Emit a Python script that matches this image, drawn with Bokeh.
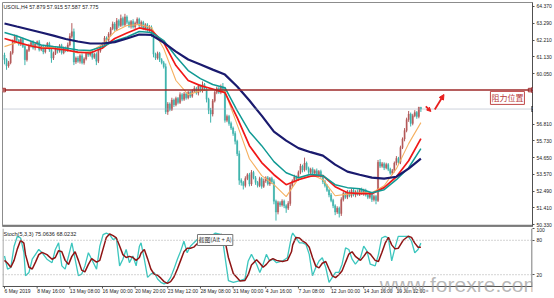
import numpy as np
from bokeh.plotting import figure
from bokeh.layouts import column
from bokeh.models import (ColumnDataSource, FixedTicker, Label, Span, Arrow,
                          NormalHead, Range1d, NumeralTickFormatter)
from bokeh.embed import file_html
from bokeh.resources import INLINE

# ---------------- data ----------------
first_open = 61.25
closes = [
    60.95, 60.55, 60.75, 61.40, 62.10, 62.45, 62.20, 61.95, 62.25, 61.80,
    60.95, 61.55, 61.85, 62.05, 61.70, 61.95, 62.10, 61.60, 61.80, 61.45,
    61.75, 62.00, 61.60, 61.05, 61.35, 61.70, 61.50, 61.85, 61.40, 61.70,
    61.55, 61.90, 62.45, 62.75, 60.80, 61.05, 60.85, 61.20, 60.75, 61.00,
    61.35, 61.25, 61.45, 61.10, 61.30, 60.85, 61.50, 61.75, 61.95, 62.35,
    62.20, 62.60, 62.95, 63.25, 62.90, 63.45, 63.15, 63.60, 63.20, 63.70,
    63.35, 63.10, 63.40, 63.05, 63.30, 63.55, 63.15, 63.35, 62.95, 63.20,
    62.85, 63.05, 62.55, 61.30, 61.05, 61.35, 60.95, 60.75, 60.50, 57.60,
    58.10, 57.75, 58.35, 58.05, 58.45, 58.20, 58.70, 58.40, 58.75, 58.50,
    58.85, 58.60, 58.95, 59.10, 58.80, 59.25, 58.95, 59.35, 59.05, 58.40,
    57.70, 57.45, 58.30, 58.85, 59.10, 58.85, 59.20, 59.00, 57.05, 57.30,
    56.85, 56.55, 56.20, 55.70, 54.90, 53.20, 53.05, 52.85, 53.30, 53.55,
    52.95, 53.70, 53.35, 53.05, 52.85, 53.30, 52.80, 53.15, 53.35, 52.95,
    53.30, 53.10, 51.85, 51.15, 51.75, 51.60, 51.85, 51.55, 51.40, 51.70,
    52.85, 53.15, 53.40, 53.25, 53.70, 54.10, 53.85, 54.30, 53.95, 53.70,
    53.90, 53.65, 53.80, 53.55, 53.75, 53.45, 53.10, 52.85, 52.55, 52.25,
    51.90, 51.55, 51.15, 51.40, 51.05, 51.95, 52.35, 52.10, 52.45, 52.20,
    52.55, 52.25, 52.45, 52.30, 52.60, 52.35, 52.55, 52.25, 52.10, 52.35,
    51.95, 52.15, 51.90, 54.35, 54.10, 54.25, 54.00, 54.20, 53.90, 53.65,
    53.80, 54.30, 54.60, 54.35, 55.30, 55.85, 56.40, 57.10, 57.45, 56.85,
    57.35, 57.55, 57.30, 57.879, 57.775,
]
up_wick = [
    0.15, 0.10, 0.12, 0.10, 0.15, 0.12, 0.10, 0.08, 0.10, 0.12,
    0.10, 0.08, 0.12, 0.10, 0.15, 0.10, 0.08, 0.12, 0.10, 0.10,
    0.12, 0.08, 0.10, 0.10, 0.12, 0.10, 0.08, 0.10, 0.12, 0.10,
    0.10, 0.15, 0.20, 0.55, 0.20, 0.10, 0.12, 0.10, 0.15, 0.10,
    0.08, 0.10, 0.12, 0.10, 0.10, 0.12, 0.10, 0.08, 0.10, 0.12,
    0.10, 0.12, 0.10, 0.15, 0.12, 0.18, 0.10, 0.25, 0.12, 0.20,
    0.10, 0.12, 0.10, 0.15, 0.10, 0.12, 0.10, 0.12, 0.10, 0.10,
    0.10, 0.12, 0.10, 0.15, 0.10, 0.12, 0.10, 0.10, 0.12, 0.20,
    0.12, 0.10, 0.15, 0.10, 0.12, 0.10, 0.15, 0.10, 0.12, 0.10,
    0.10, 0.12, 0.10, 0.15, 0.10, 0.12, 0.10, 0.20, 0.10, 0.12,
    0.10, 0.15, 0.12, 0.10, 0.12, 0.10, 0.15, 0.25, 0.20, 0.12,
    0.10, 0.12, 0.10, 0.15, 0.10, 0.20, 0.12, 0.10, 0.15, 0.10,
    0.12, 0.15, 0.10, 0.12, 0.10, 0.12, 0.10, 0.15, 0.10, 0.12,
    0.10, 0.12, 0.15, 0.10, 0.12, 0.10, 0.12, 0.10, 0.10, 0.15,
    0.12, 0.10, 0.15, 0.10, 0.12, 0.15, 0.10, 0.35, 0.10, 0.12,
    0.10, 0.12, 0.10, 0.15, 0.10, 0.12, 0.10, 0.12, 0.10, 0.10,
    0.12, 0.10, 0.10, 0.12, 0.10, 0.15, 0.12, 0.10, 0.12, 0.10,
    0.10, 0.12, 0.10, 0.15, 0.10, 0.12, 0.10, 0.10, 0.12, 0.10,
    0.10, 0.12, 0.10, 0.15, 0.20, 0.12, 0.10, 0.12, 0.10, 0.10,
    0.12, 0.10, 0.15, 0.10, 0.12, 0.10, 0.15, 0.12, 0.20, 0.10,
    0.12, 0.15, 0.10, 0.04, 0.036,
]
dn_wick = [
    0.30, 0.25, 0.12, 0.10, 0.12, 0.10, 0.15, 0.10, 0.12, 0.10,
    0.35, 0.12, 0.10, 0.12, 0.10, 0.15, 0.10, 0.12, 0.10, 0.15,
    0.10, 0.12, 0.15, 0.30, 0.12, 0.10, 0.15, 0.10, 0.12, 0.10,
    0.12, 0.10, 0.10, 0.12, 0.20, 0.12, 0.10, 0.15, 0.10, 0.12,
    0.10, 0.12, 0.10, 0.15, 0.10, 0.25, 0.12, 0.10, 0.12, 0.10,
    0.12, 0.10, 0.15, 0.10, 0.12, 0.10, 0.15, 0.10, 0.12, 0.10,
    0.12, 0.10, 0.15, 0.10, 0.12, 0.10, 0.12, 0.15, 0.10, 0.12,
    0.10, 0.12, 0.15, 0.20, 0.12, 0.10, 0.15, 0.10, 0.12, 0.15,
    0.20, 0.12, 0.10, 0.15, 0.10, 0.12, 0.10, 0.12, 0.10, 0.12,
    0.10, 0.12, 0.10, 0.12, 0.10, 0.15, 0.10, 0.12, 0.10, 0.20,
    0.25, 0.55, 0.15, 0.10, 0.12, 0.10, 0.12, 0.10, 0.15, 0.12,
    0.15, 0.12, 0.15, 0.20, 0.15, 0.30, 0.20, 0.25, 0.12, 0.10,
    0.15, 0.12, 0.10, 0.15, 0.12, 0.10, 0.15, 0.10, 0.12, 0.10,
    0.12, 0.15, 0.20, 0.55, 0.15, 0.12, 0.10, 0.15, 0.30, 0.12,
    0.15, 0.12, 0.10, 0.15, 0.10, 0.12, 0.15, 0.10, 0.12, 0.10,
    0.12, 0.10, 0.15, 0.10, 0.12, 0.10, 0.15, 0.12, 0.10, 0.15,
    0.12, 0.15, 0.20, 0.12, 0.25, 0.15, 0.12, 0.10, 0.12, 0.10,
    0.12, 0.10, 0.15, 0.10, 0.12, 0.10, 0.15, 0.10, 0.12, 0.10,
    0.15, 0.12, 0.25, 0.10, 0.12, 0.10, 0.15, 0.10, 0.12, 0.10,
    0.12, 0.10, 0.15, 0.10, 0.12, 0.10, 0.15, 0.12, 0.15, 0.20,
    0.12, 0.10, 0.15, 0.12, 0.188,
]

# moving averages, one reading per trading day (every 6th H4 bar)
ma_idx = list(range(0, 205, 6))
ma_navy = [63.28, 63.08, 62.89, 62.70, 62.50, 62.28, 62.12, 61.99, 61.99, 62.08,
           62.31, 62.57, 62.54, 62.05, 61.47, 60.96, 60.64, 60.31, 59.99, 59.22,
           58.32, 57.35, 56.32, 55.74, 55.26, 55.00, 54.78, 54.20, 53.75, 53.55,
           53.36, 53.30, 53.42, 53.94, 54.58]
ma_teal = [62.70, 62.47, 62.18, 61.89, 61.79, 61.70, 61.57, 61.54, 61.79, 62.15,
           62.41, 62.76, 62.70, 62.18, 61.15, 60.25, 59.73, 59.35, 59.15, 57.67,
           56.32, 55.42, 54.39, 53.68, 53.36, 53.58, 53.49, 52.91, 52.72, 52.65,
           52.39, 52.59, 53.23, 54.00, 55.23]
ma_red = [62.31, 62.08, 61.86, 61.70, 61.67, 61.57, 61.44, 61.38, 61.70, 62.31,
          62.66, 62.99, 62.83, 62.05, 60.57, 59.61, 59.28, 59.06, 58.83, 57.22,
          55.42, 54.33, 53.55, 52.91, 53.23, 53.46, 53.49, 52.78, 52.39, 52.33,
          52.33, 52.72, 53.42, 54.45, 55.87]
ma_orange = [61.79, 62.05, 61.86, 61.73, 61.73, 61.57, 61.38, 61.47, 61.92, 62.76,
             63.15, 63.21, 63.02, 61.67, 59.61, 58.70, 58.96, 59.03, 58.90, 56.77,
             54.58, 53.49, 52.91, 52.14, 53.30, 53.58, 53.23, 52.20, 52.30, 52.39,
             52.39, 52.84, 53.94, 55.55, 56.90]

# Stochastic (5,3,3) readings: bar position, main line, signal line
stoch_idx = [0, 1.5, 3.1, 4.7, 6.3, 7.9, 9.5, 10.3, 12.0, 13.6, 15.2, 16.8, 18.4, 20.8,
             23.3, 24.9, 26.5, 28.1, 29.7, 31.4, 33.0, 34.6, 36.2, 37.8, 39.4, 41.1,
             42.7, 45.1, 46.7, 48.3, 49.9, 51.5, 53.2, 54.8, 56.4, 58.0, 59.6, 61.2,
             62.9, 64.5, 66.1, 66.9, 68.5, 70.1, 71.7, 73.3, 75.0, 76.6, 78.2, 79.8,
             81.4, 83.0, 84.7, 86.3, 87.9, 89.5, 91.1, 92.7, 94.4, 98.4, 103.3, 106.5,
             108.1, 109.7, 112.1, 115.4, 117.8, 119.4, 121.0, 123.5, 125.1, 126.7,
             128.3, 129.9, 131.5, 133.3, 136.2, 138.6, 140.6, 141.2, 142.8, 144.5,
             146.0, 147.7, 149.3, 150.9, 152.5, 154.1, 155.7, 157.4, 159.0, 160.6,
             162.2, 163.8, 165.4, 167.1, 168.7, 170.3, 171.9, 174.4, 176.0, 177.6,
             179.2, 181.6, 183.2, 184.8, 186.5, 188.1, 189.7, 191.3, 192.9, 195.3,
             197.8, 199.4, 201.0, 202.6, 204.0]
stoch_main = [52.6, 29.8, 32.6, 69.7, 86.9, 84.0, 58.3, 18.3, 24.0, 47.0, 55.5, 64.0,
              58.3, 47.0, 41.0, 64.0, 75.4, 35.4, 29.8, 52.6, 75.4, 47.0, 18.3, 21.0,
              35.4, 58.3, 47.0, 29.8, 69.7, 89.7, 92.5, 89.7, 81.2, 84.0, 35.4, 47.0,
              64.0, 41.0, 52.6, 35.4, 69.7, 75.4, 47.0, 15.4, 21.0, 24.0, 12.6, 6.8,
              4.0, 6.8, 15.4, 29.8, 47.0, 61.1, 78.3, 58.3, 69.7, 75.4, 81.2, 80.0,
              92.5, 89.7, 49.7, 9.7, 6.8, 9.7, 12.6, 44.0, 55.5, 38.3, 24.0, 38.3,
              55.5, 44.0, 47.0, 41.0, 44.0, 49.7, 86.9, 92.5, 84.0, 75.4, 75.4, 72.6,
              55.5, 18.3, 32.6, 44.0, 49.7, 32.6, 6.8, 15.4, 24.0, 24.0, 38.3, 66.8,
              64.0, 47.0, 38.3, 49.7, 69.7, 61.1, 38.3, 35.4, 55.5, 84.0, 86.9, 84.0,
              44.0, 66.8, 86.9, 86.9, 86.9, 78.3, 58.3, 64.0, 75.06]
stoch_signal = [45, 40, 33, 45, 65, 80, 75, 55, 33, 30, 42, 55, 59, 55, 47, 50, 62, 60,
                45, 38, 52, 60, 45, 28, 25, 38, 48, 42, 45, 65, 85, 91, 88, 84, 70, 55,
                50, 52, 50, 45, 50, 58, 64, 48, 30, 21, 19, 14, 8, 5, 8, 16, 30, 45, 60,
                66, 66, 68, 74, 78, 86, 90, 78, 50, 22, 9, 10, 20, 37, 46, 40, 33, 38,
                45, 48, 45, 43, 45, 60, 72, 85, 84, 79, 75, 68, 50, 35, 32, 40, 43, 30,
                18, 15, 20, 27, 42, 56, 60, 52, 45, 52, 60, 56, 45, 43, 58, 75, 85, 72,
                65, 66, 80, 87, 85, 75, 68, 68.02]

price_ticks = [64.370, 63.290, 62.210, 61.130, 60.050, 56.810, 55.730,
               54.650, 53.570, 52.490, 51.410, 50.330]
resistance = 58.995
last_price = 57.775
time_tick_idx = [0, 16, 32, 48, 64, 80, 96, 112, 128, 144, 160, 176, 192]
time_labels = ["6 May 2019", "8 May 16:00", "13 May 08:00", "16 May 00:00",
               "20 May 20:00", "23 May 12:00", "28 May 08:00", "31 May 00:00",
               "4 Jun 16:00", "7 Jun 08:00", "12 Jun 00:00", "14 Jun 16:00",
               "19 Jun 12:00"]
stoch_levels = [20, 80]
stoch_ticks = [20, 80, 100]

assert len(closes) == len(up_wick) == len(dn_wick) == 205
assert len(stoch_idx) == len(stoch_main) == len(stoch_signal)

# ---------------- derived OHLC ----------------
C = np.array(closes)
O = np.array([first_open] + closes[:-1])
H = np.maximum(O, C) + np.array(up_wick)
L = np.minimum(O, C) - np.array(dn_wick)
n = len(C)
x = np.arange(n)

BULL = "#B45A5A"
BEAR = "#3DB3AC"
colors = [BULL if c >= o else BEAR for o, c in zip(O, C)]
src = ColumnDataSource(dict(x=x, o=O, c=C, h=H, l=L,
                            top=np.maximum(O, C), bot=np.minimum(O, C), color=colors))

FONT = "Liberation Sans"
PX_PER_BAR = 2.045
x0 = -2 / PX_PER_BAR
x1 = x0 + 531 / PX_PER_BAR
xr = Range1d(x0, x1)

# ---------------- main price panel ----------------
p = figure(width=554, height=227, x_range=xr, y_range=Range1d(50.22, 64.627),
           y_axis_location="right", x_axis_location=None,
           toolbar_location=None, output_backend="svg",
           min_border_left=2, min_border_right=21, min_border_top=2, min_border_bottom=1)
p.grid.visible = False
p.outline_line_color = "#8c8c8c"
p.background_fill_color = "white"
p.border_fill_color = "white"
ya = p.yaxis[0]
ya.ticker = FixedTicker(ticks=price_ticks)
ya.formatter = NumeralTickFormatter(format="0.000")
ya.major_label_text_font_size = "5px"
ya.major_label_text_font = FONT
ya.major_label_text_color = "#222222"
ya.axis_line_color = "#505050"
ya.major_tick_line_color = "#505050"
ya.major_tick_out = 2
ya.major_tick_in = 0
ya.minor_tick_out = 0
ya.minor_tick_in = 0
ya.major_label_standoff = 2

# resistance and current price lines
p.add_layout(Span(location=resistance, dimension="width", line_color="#9E2A2A", line_width=1.6))
p.add_layout(Span(location=last_price, dimension="width", line_color="#9AA6B8",
                  line_width=1, line_dash="1 1"))
p.scatter([x0 + 0.6, x1 - 1.2], [resistance, resistance], marker="square", size=3.5,
          fill_color="white", line_color="#9E2A2A", line_width=1)

# candles
p.segment(x0="x", y0="l", x1="x", y1="h", source=src, line_color="color", line_width=1)
p.vbar(x="x", width=0.6, top="top", bottom="bot", source=src,
       fill_color="color", line_color="color", line_width=0.4)

# moving averages
p.line(ma_idx, ma_orange, line_color="#F5B060", line_width=1.1)
p.line(ma_idx, ma_red, line_color="#F01818", line_width=1.7)
p.line(ma_idx, ma_teal, line_color="#119A94", line_width=1.5)
p.line(ma_idx, ma_navy, line_color="#1A1A6E", line_width=2.2)

# bottom separator
p.add_layout(Span(location=50.22 + 0.04, dimension="width", line_color="#7a7a7a", line_width=2.5))

# title
p.add_layout(Label(x=x0 + 0.5, y=64.50, text="USOIL,H4 57.879 57.915 57.587 57.775",
                   text_font=FONT, text_font_size="5.3px", text_color="#222222",
                   text_baseline="top", text_align="left"))

# price tags on the axis
tag_x = x1 - 0.5
p.add_layout(Label(x=tag_x, y=resistance, text="58.995", text_font=FONT,
                   text_font_size="5px", text_color="white", text_baseline="middle",
                   text_align="left", background_fill_color="#8E1E1E", padding=1))
p.add_layout(Label(x=tag_x, y=last_price, text="57.775", text_font=FONT,
                   text_font_size="5px", text_color="white", text_baseline="middle",
                   text_align="left", background_fill_color="#111111", padding=1))

# annotation: resistance text + red arrows
p.add_layout(Label(x=246.4, y=58.49, text="阻力位置", text_font="Noto Sans CJK SC",
                   text_font_size="8px", text_color="#B83A3A", text_baseline="middle",
                   text_align="center", background_fill_color="white",
                   border_line_color="#C04848", border_line_width=1, padding=1))
p.add_layout(Arrow(end=NormalHead(size=4, fill_color="#E81E1E", line_color="#E81E1E"),
                   x_start=206.4, y_start=57.94, x_end=208.9, y_end=57.62,
                   line_color="#E81E1E", line_width=1.8))
p.add_layout(Arrow(end=NormalHead(size=5, fill_color="#E81E1E", line_color="#E81E1E"),
                   x_start=210.8, y_start=57.75, x_end=215.3, y_end=58.71,
                   line_color="#E81E1E", line_width=1.8))

# ---------------- stochastic panel (frame extends over the time-label strip) ----------------
S_BOT = -0.5
S_LOW = -21.4
s = figure(width=554, height=71, x_range=xr, y_range=Range1d(S_LOW, 100.5),
           y_axis_location="right", x_axis_location=None,
           toolbar_location=None, output_backend="svg",
           min_border_left=2, min_border_right=21, min_border_top=1, min_border_bottom=0)
s.grid.visible = False
s.outline_line_color = None
s.background_fill_color = "white"
s.border_fill_color = "white"
sy = s.yaxis[0]
sy.ticker = FixedTicker(ticks=stoch_ticks)
sy.major_label_text_font_size = "5px"
sy.major_label_text_font = FONT
sy.major_label_text_color = "#222222"
sy.axis_line_color = None
sy.major_tick_line_color = "#505050"
sy.major_tick_out = 2
sy.major_tick_in = 0
sy.minor_tick_out = 0
sy.minor_tick_in = 0
sy.major_label_standoff = 2

# panel border: bottom time axis, left and right edges
s.add_layout(Span(location=S_BOT, dimension="width", line_color="#505050", line_width=1))
s.segment(x0=[x0 + 0.25, x1 - 0.25], y0=[S_BOT, S_BOT], x1=[x0 + 0.25, x1 - 0.25],
          y1=[100.5, 100.5], line_color=["#8c8c8c", "#505050"], line_width=1)
s.segment(x0=time_tick_idx, y0=[S_BOT] * len(time_tick_idx), x1=time_tick_idx,
          y1=[S_BOT - 3.5] * len(time_tick_idx), line_color="#505050", line_width=1)

for lv in stoch_levels:
    s.add_layout(Span(location=lv, dimension="width", line_color="#a8a8a8",
                      line_width=1, line_dash="1 2"))

s.line(stoch_idx, stoch_main, line_color="#3CC6BE", line_width=1.3)
s.line(stoch_idx, stoch_signal, line_color="#8E1414", line_width=1.5)

s.add_layout(Label(x=x0 + 0.5, y=96.0, text="Stoch(5,3,3) 75.0636 68.0232",
                   text_font=FONT, text_font_size="5.5px", text_color="#222222",
                   text_baseline="top", text_align="left"))

for t, lab in zip(time_tick_idx, time_labels):
    s.add_layout(Label(x=t, y=S_BOT - 3.0, text=lab, text_font=FONT, text_font_size="5px",
                       text_color="#222222", text_baseline="top", text_align="left",
                       x_offset=0))

s.add_layout(Label(x=103.2, y=80.5, text="截图(Alt + A)", text_font="Noto Sans CJK SC",
                   text_font_size="6px", text_color="#333333", text_baseline="middle",
                   text_align="center", background_fill_color="white",
                   border_line_color="#777777", border_line_width=1, padding=1))

s.add_layout(Label(x=183.9, y=-17.9, text="www.forexre.com", text_font=FONT,
                   text_font_size="21px", text_color="#9a9a9a", text_alpha=0.7,
                   text_baseline="bottom", text_align="left"))

layout = column(p, s, spacing=0)
open("out.html", "w").write(file_html(layout, INLINE))
